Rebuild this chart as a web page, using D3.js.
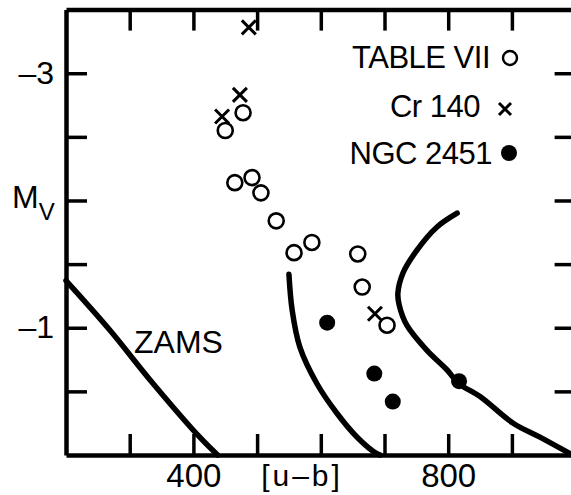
<!DOCTYPE html>
<html>
<head>
<meta charset="utf-8">
<script src="https://cdn.jsdelivr.net/npm/d3@7"></script>
<style>
  body { margin: 0; background: #fff; }
  svg { display: block; font-family: "Liberation Sans", Arial, sans-serif; }
  .axis path, .axis line { stroke: #000; }
  .axis text { fill: #000; font-family: "Liberation Sans", Arial, sans-serif; }
</style>
</head>
<body>
<svg class="chart"></svg>
<script>
// [u-b], M_V pairs
var tableVII = [
  [450, -2.55], [478, -2.69], [465, -2.14], [492, -2.18], [506, -2.06],
  [530, -1.84], [558, -1.59], [586, -1.67], [658, -1.58], [665, -1.32],
  [704, -1.02]
];
var cr140 = [[487, -3.36], [445, -2.66], [473, -2.83], [685, -1.11]];
var ngc2451 = [[610, -1.04], [684, -0.64], [713, -0.42], [817, -0.58]];

var zams = [[200, -1.37], [269, -0.98], [332, -0.59], [410, -0.14], [438, 0]];
var isoLeft = [
  [550, -1.42], [555, -1.14], [567, -0.85], [594, -0.56], [625, -0.33],
  [657, -0.14], [688, -0.01], [693, 0]
];
var isoRight = [
  [814, -1.90], [782, -1.79], [751, -1.61], [729, -1.43], [721, -1.27],
  [723, -1.18], [735, -1.02], [767, -0.82], [798, -0.67], [817, -0.56],
  [850, -0.46], [902, -0.25], [944, -0.14], [995, 0]
];

var xTicks = [300, 400, 500, 600, 700, 800, 900];
var xLabels = [400, 800];
var yTicks = [-3, -2.5, -2, -1.5, -1, -0.5];
var yLabels = [-3, -1];

var width = 571;
var height = 495;

var x = d3.scaleLinear().domain([200, 1000]).range([66, 575.6]);
var y = d3.scaleLinear().domain([-3.5, 0]).range([9.6, 455]);

var chart = d3.select('.chart').attr('width', width).attr('height', height);

var fmtX = d => xLabels.indexOf(d) >= 0 ? d : '';
var fmtY = d => yLabels.indexOf(d) >= 0 ? '\u2013' + Math.abs(d) : '';

function styleAxis(g, fontSize) {
  g.attr('class', 'axis');
  g.select('.domain').attr('stroke-width', 4.5);
  g.selectAll('.tick line').attr('stroke-width', 3.5);
  g.selectAll('.tick text').style('font-size', fontSize + 'px');
}

chart.append('g')
    .attr('transform', 'translate(0,' + y(0) + ')')
    .call(d3.axisBottom(x).tickValues(xTicks).tickSize(-21).tickSizeOuter(0)
        .tickPadding(9).tickFormat(fmtX))
    .call(g => styleAxis(g, 33));

chart.append('g')
    .attr('transform', 'translate(0,' + y(-3.5) + ')')
    .call(d3.axisTop(x).tickValues(xTicks).tickSize(-21).tickSizeOuter(0)
        .tickFormat(''))
    .call(g => styleAxis(g, 33));

chart.append('g')
    .attr('transform', 'translate(' + x(200) + ',0)')
    .call(d3.axisLeft(y).tickValues(yTicks).tickSize(-21).tickSizeOuter(0)
        .tickPadding(12).tickFormat(fmtY))
    .call(g => styleAxis(g, 32));

chart.append('g')
    .attr('transform', 'translate(' + x(1000) + ',0)')
    .call(d3.axisRight(y).tickValues(yTicks).tickSize(-21).tickSizeOuter(0)
        .tickFormat(''))
    .call(g => styleAxis(g, 32));

// axis titles
var mv = chart.append('text')
    .attr('x', 12)
    .attr('y', 208)
    .style('font-size', '32px');
mv.append('tspan').text('M');
mv.append('tspan').attr('dy', 12).style('font-size', '24px').text('V');

chart.append('text')
    .attr('x', 302)
    .attr('y', 486)
    .attr('text-anchor', 'middle')
    .style('font-size', '30px')
    .style('letter-spacing', '3px')
    .text('[u\u2013b]');

// curves
var line = d3.line()
    .x(d => x(d[0]))
    .y(d => y(d[1]))
    .curve(d3.curveCatmullRom);

chart.selectAll('path.curve')
    .data([zams, isoLeft, isoRight])
    .join('path')
    .attr('class', 'curve')
    .attr('d', line)
    .attr('fill', 'none')
    .attr('stroke', '#000')
    .attr('stroke-width', 5.5)
    .attr('stroke-linecap', 'round');

chart.append('text')
    .attr('x', 134)
    .attr('y', 353)
    .style('font-size', '32px')
    .text('ZAMS');

// points
chart.selectAll('circle.open')
    .data(tableVII)
    .join('circle')
    .attr('class', 'open')
    .attr('cx', d => x(d[0]))
    .attr('cy', d => y(d[1]))
    .attr('r', 7.5)
    .attr('fill', 'none')
    .attr('stroke', '#000')
    .attr('stroke-width', 2.6);

chart.selectAll('circle.filled')
    .data(ngc2451)
    .join('circle')
    .attr('class', 'filled')
    .attr('cx', d => x(d[0]))
    .attr('cy', d => y(d[1]))
    .attr('r', 8)
    .attr('fill', '#000');

function drawCross(sel, cx, cy, s) {
  sel.append('path')
      .attr('d', 'M' + (cx - s) + ',' + (cy - s) + 'L' + (cx + s) + ',' + (cy + s) +
           'M' + (cx + s) + ',' + (cy - s) + 'L' + (cx - s) + ',' + (cy + s))
      .attr('stroke', '#000')
      .attr('stroke-width', 3)
      .attr('fill', 'none');
}
cr140.forEach(d => drawCross(chart, x(d[0]), y(d[1]), 7));

// legend
var legend = [
  {label: 'TABLE VII', y: 68, end: 490, mark: 'open'},
  {label: 'Cr 140', y: 117, end: 480, mark: 'cross'},
  {label: 'NGC 2451', y: 164, end: 492, mark: 'filled'}
];
legend.forEach(l => {
  chart.append('text')
      .attr('x', l.end)
      .attr('y', l.y)
      .attr('text-anchor', 'end')
      .style('font-size', '31px')
      .style('letter-spacing', '-0.5px')
      .text(l.label);
  if (l.mark === 'open') {
    chart.append('circle').attr('cx', 510).attr('cy', l.y - 10).attr('r', 7)
        .attr('fill', 'none').attr('stroke', '#000').attr('stroke-width', 2.4);
  } else if (l.mark === 'filled') {
    chart.append('circle').attr('cx', 509).attr('cy', l.y - 11).attr('r', 8)
        .attr('fill', '#000');
  } else {
    drawCross(chart, 505, l.y - 8, 6);
  }
});
</script>
</body>
</html>
